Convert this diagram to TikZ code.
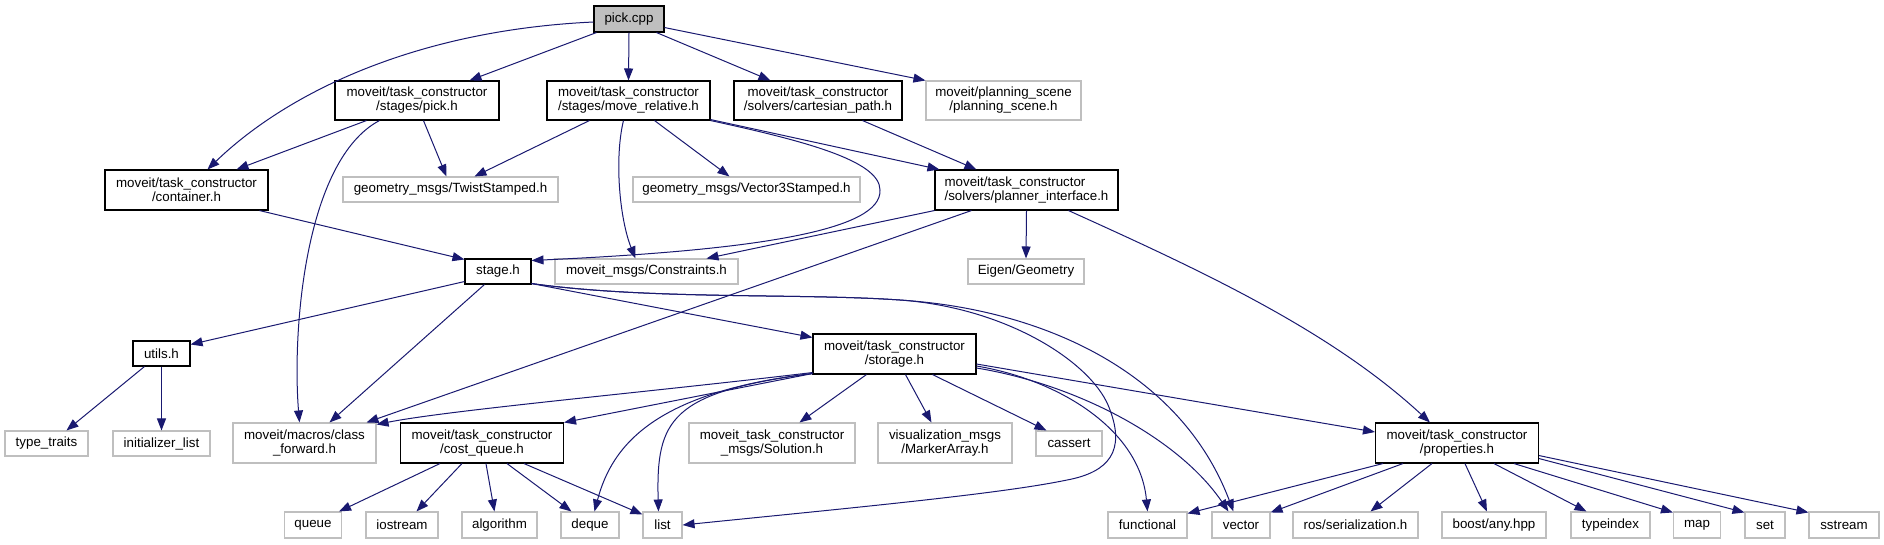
\documentclass[tikz,border=0pt]{standalone}
\usepackage{fontspec}
\setmainfont{Liberation Sans}
\usetikzlibrary{arrows.meta,calc}
\definecolor{eblue}{HTML}{191970}
\definecolor{gbord}{HTML}{BFBFBF}
\tikzset{
  nd/.style={draw=black, line width=0.8pt, rectangle, inner sep=0pt, align=center, font=\fontsize{10}{10.5}\selectfont, fill=white},
  ext/.style={nd, draw=gbord},
  sz/.style 2 args={minimum width={#1*0.75pt}, minimum height={#2*0.75pt}},
  dep/.style={draw=eblue, line width=0.75pt, -{Triangle[length=9pt,width=6.75pt]}}
}
\begin{document}
\begin{tikzpicture}[x=0.75pt,y=-0.75pt]
\useasboundingbox (0,0) rectangle (1884,544);
% nodes
\node[nd, sz={70}{26}, fill=gbord] (pickcpp) at (629,19) {pick.cpp};
\node[nd, sz={164}{39}] (pickh) at (417,100.5) {moveit/task\_constructor\\/stages/pick.h};
\node[nd, sz={163}{39}] (moverel) at (628.5,100.5) {moveit/task\_constructor\\/stages/move\_relative.h};
\node[nd, sz={168}{39}] (cart) at (818,100.5) {moveit/task\_constructor\\/solvers/cartesian\_path.h};
\node[ext, sz={155}{39}] (plscene) at (1003.5,100.5) {moveit/planning\_scene\\/planning\_scene.h};
\node[nd, sz={163}{40}] (container) at (186.5,190) {moveit/task\_constructor\\/container.h};
\node[ext, sz={215}{25}] (twist) at (450.5,189.5) {geometry\_msgs/TwistStamped.h};
\node[ext, sz={227}{25}] (vec3) at (746.5,189.5) {geometry\_msgs/Vector3Stamped.h};
\node[nd, sz={183}{40}, align=left] (planner) at (1026.5,190) {moveit/task\_constructor\\/solvers/planner\_interface.h};
\node[nd, sz={66}{25}] (stage) at (498,271.5) {stage.h};
\node[ext, sz={183}{25}] (constraints) at (646.5,271.5) {moveit\_msgs/Constraints.h};
\node[ext, sz={116}{25}] (eigen) at (1026,271.5) {Eigen/Geometry};
\node[nd, sz={57}{25}] (utils) at (161.5,353.5) {utils.h};
\node[nd, sz={163}{40}] (storage) at (894.5,354) {moveit/task\_constructor\\/storage.h};
\node[ext, sz={83}{25}] (typetraits) at (46.5,443.5) {type\_traits};
\node[ext, sz={97}{25}] (initlist) at (161.5,443.5) {initializer\_list};
\node[ext, sz={143}{40}] (classfwd) at (304.5,443) {moveit/macros/class\\\_forward.h};
\node[nd, sz={163}{40}] (costq) at (482,443) {moveit/task\_constructor\\/cost\_queue.h};
\node[ext, sz={166}{40}] (solution) at (772,443) {moveit\_task\_constructor\\\_msgs/Solution.h};
\node[ext, sz={134}{40}] (marker) at (945,443) {visualization\_msgs\\/MarkerArray.h};
\node[ext, sz={66}{25}] (cassert) at (1069,443.5) {cassert};
\node[nd, sz={163}{40}] (properties) at (1457,443) {moveit/task\_constructor\\/properties.h};
\node[ext, sz={57}{26}] (queue) at (313,525) {queue};
\node[ext, sz={72}{26}] (iostream) at (402,525) {iostream};
\node[ext, sz={75}{26}] (algorithm) at (499.5,525) {algorithm};
\node[ext, sz={58}{26}] (deque) at (590,525) {deque};
\node[ext, sz={39}{26}] (list) at (662.5,525) {list};
\node[ext, sz={79}{26}] (functional) at (1147.5,525) {functional};
\node[ext, sz={58}{26}] (vector) at (1241,525) {vector};
\node[ext, sz={125}{26}] (rosser) at (1355.5,525) {ros/serialization.h};
\node[ext, sz={104}{26}] (boostany) at (1494,525) {boost/any.hpp};
\node[ext, sz={79}{26}] (typeindex) at (1610.5,525) {typeindex};
\node[ext, sz={47}{26}] (map) at (1697,525) {map};
\node[ext, sz={40}{26}] (set) at (1765,525) {set};
\node[ext, sz={70}{26}] (sstream) at (1844,525) {sstream};
% edges from pick.cpp
\draw[dep] ($(pickcpp.west)+(0,3)$) .. controls (420,30) and (290,90) .. ($(container.north west)+(103,0)$);
\draw[dep] ($(pickcpp.south west)+(3,0)$) -- ($(pickh.north west)+(135,0)$);
\draw[dep] (pickcpp.south) -- (moverel.north);
\draw[dep] ($(pickcpp.south west)+(63,0)$) -- ($(cart.north west)+(37,0)$);
\draw[dep] ($(pickcpp.south east)+(0,-5)$) -- (plscene.north west);
% pick.h
\draw[dep] ($(pickh.south west)+(32,0)$) -- ($(container.north west)+(132,0)$);
\draw[dep] ($(pickh.south west)+(89,0)$) -- ($(twist.north west)+(104,0)$);
\draw[dep] ($(pickh.south west)+(45,0)$) .. controls (305,160) and (292,330) .. ($(classfwd.north west)+(67,0)$);
% move_relative.h
\draw[dep] ($(moverel.south west)+(43,0)$) -- ($(twist.north west)+(132,0)$);
\draw[dep] ($(moverel.south west)+(77,0)$) .. controls (614,160) and (620,220) .. ($(constraints.north west)+(81,0)$);
\draw[dep] ($(moverel.south west)+(108,0)$) -- ($(vec3.north west)+(97,0)$);
\draw[dep] ($(moverel.south east)+(0,-1)$) -- ($(planner.north west)+(5,0)$);
\draw[dep] (moverel.south east) .. controls (800,140) and (880,160) .. (880,190) .. controls (882,230) and (760,250) .. ($(stage.north east)+(0,2)$);
% cartesian_path.h
\draw[dep] ($(cart.south west)+(129,0)$) -- ($(planner.north west)+(42,0)$);
% container.h
\draw[dep] ($(container.south west)+(155,0)$) -- ($(stage.north west)+(0,1)$);
% planner_interface.h
\draw[dep] (planner.south west) -- ($(constraints.north west)+(152,0)$);
\draw[dep] ($(planner.south west)+(37,0)$) -- ($(classfwd.north west)+(134,0)$);
\draw[dep] (planner.south) -- (eigen.north);
\draw[dep] ($(planner.south west)+(134,0)$) .. controls (1200,270) and (1330,330) .. ($(properties.north west)+(55,0)$);
% stage.h
\draw[dep] ($(stage.south west)+(0,-3)$) -- ($(utils.north east)+(0,4)$);
\draw[dep] ($(stage.south west)+(20,0)$) -- ($(classfwd.north west)+(97,0)$);
\draw[dep] ($(stage.south east)+(0,-1)$) -- ($(storage.north west)+(0,4)$);
\draw[dep] ($(stage.south east)+(0,-1)$) .. controls (650,300) and (800,293) .. (900,300) .. controls (1010,308) and (1095,365) .. (1110,410) .. controls (1125,450) and (1110,472) .. (1067,480) .. controls (1000,494) and (850,508) .. (list.east);
\draw[dep] ($(stage.south east)+(0,-1)$) .. controls (650,300) and (800,293) .. (900,300) .. controls (1040,309) and (1180,370) .. ($(vector.north west)+(22,0)$);
% storage.h
\draw[dep] ($(storage.south west)+(0,-2)$) .. controls (650,392) and (450,410) .. ($(classfwd.north east)+(0,2)$);
\draw[dep] ($(storage.south west)+(0,-1)$) -- (costq.north east);
\draw[dep] ($(storage.south west)+(0,-1)$) .. controls (655,392) and (612,445) .. ($(deque.north west)+(34,0)$);
\draw[dep] ($(storage.south west)+(0,-1)$) .. controls (670,392) and (656,420) .. ($(list.north west)+(16,0)$);
\draw[dep] ($(storage.south west)+(54,0)$) -- ($(solution.north west)+(111,0)$);
\draw[dep] ($(storage.south west)+(93,0)$) -- ($(marker.north west)+(54,0)$);
\draw[dep] ($(storage.south west)+(120,0)$) -- ($(cassert.north west)+(11,0)$);
\draw[dep] ($(storage.east)+(0,12)$) .. controls (1060,380) and (1140,430) .. (functional.north);
\draw[dep] ($(storage.east)+(0,14)$) .. controls (1080,385) and (1180,440) .. ($(vector.north west)+(17,0)$);
\draw[dep] ($(storage.east)+(0,10)$) -- ($(properties.west)+(0,-11)$);
% cost_queue.h
\draw[dep] ($(costq.south west)+(40,0)$) -- ($(queue.north east)+(-3,0)$);
\draw[dep] ($(costq.south west)+(62,0)$) -- ($(iostream.north west)+(51,0)$);
\draw[dep] ($(costq.south west)+(86,0)$) -- ($(algorithm.north west)+(33,0)$);
\draw[dep] ($(costq.south west)+(107,0)$) -- ($(deque.north west)+(11,0)$);
\draw[dep] ($(costq.south west)+(124,0)$) -- ($(list.north west)+(0,3)$);
% utils.h
\draw[dep] ($(utils.south west)+(12,0)$) -- ($(typetraits.north west)+(62,0)$);
\draw[dep] (utils.south) -- (initlist.north);
% properties.h
\draw[dep] ($(properties.south west)+(8,0)$) -- ($(functional.north east)+(0,2)$);
\draw[dep] ($(properties.south west)+(28,0)$) -- ($(vector.north east)+(0,1)$);
\draw[dep] ($(properties.south west)+(57,0)$) -- ($(rosser.north west)+(78,0)$);
\draw[dep] ($(properties.south west)+(90,0)$) -- ($(boostany.north west)+(45.5,0)$);
\draw[dep] ($(properties.south west)+(119,0)$) -- ($(typeindex.north west)+(16,0)$);
\draw[dep] ($(properties.south west)+(139,0)$) -- ($(map.north west)+(0,1)$);
\draw[dep] ($(properties.south east)+(0,-5)$) -- ($(set.north west)+(0,1)$);
\draw[dep] ($(properties.south east)+(0,-8)$) -- ($(sstream.north west)+(0,1)$);
\end{tikzpicture}
\end{document}
